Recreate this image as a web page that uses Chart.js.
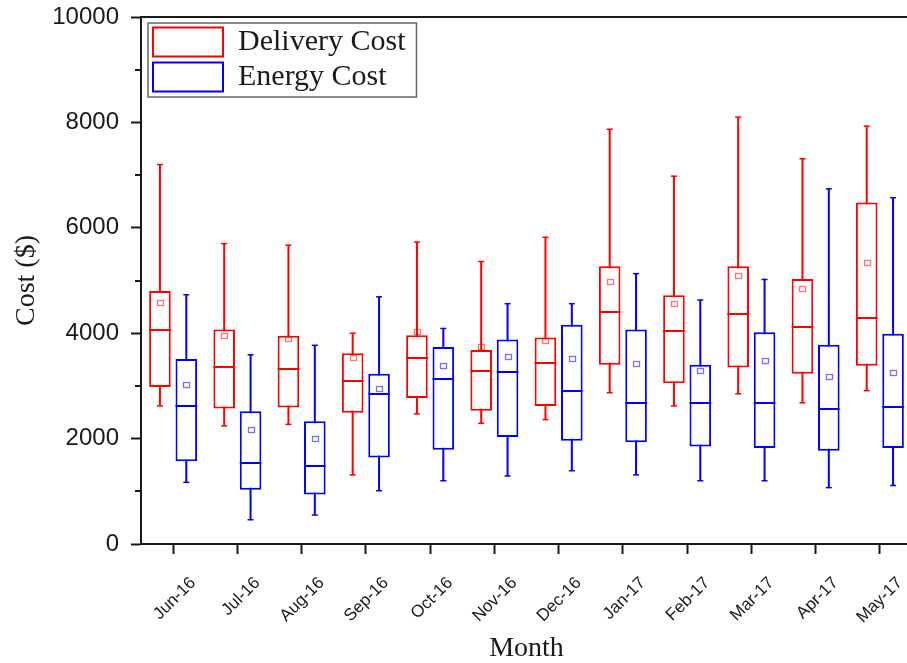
<!DOCTYPE html>
<html>
<head>
<meta charset="utf-8">
<script src="https://cdn.jsdelivr.net/npm/chart.js@4.4.1/dist/chart.umd.min.js"></script>
<style>
html, body { margin: 0; padding: 0; background: #fff; overflow: hidden; width: 907px; height: 663px; }
#wrap { position: relative; width: 920px; height: 663px; }
</style>
</head>
<body>
<div id="wrap"><canvas id="c"></canvas></div>
<script>
// ---- data ----
const months = ['Jun-16','Jul-16','Aug-16','Sep-16','Oct-16','Nov-16','Dec-16','Jan-17','Feb-17','Mar-17','Apr-17','May-17'];

const deliveryMin    = [2620, 2240, 2270, 1310, 2470, 2290, 2360, 2870, 2620, 2850, 2680, 2910];
const deliveryQ1     = [2980, 2570, 2590, 2490, 2770, 2530, 2620, 3400, 3050, 3350, 3230, 3380];
const deliveryMedian = [4060, 3350, 3330, 3100, 3520, 3280, 3440, 4400, 4040, 4370, 4110, 4280];
const deliveryQ3     = [4800, 4070, 3950, 3620, 3960, 3680, 3920, 5270, 4720, 5270, 5030, 6480];
const deliveryMax    = [7200, 5700, 5670, 4000, 5730, 5360, 5820, 7870, 6980, 8100, 7310, 7930];
const deliveryMean   = [4590, 3960, 3900, 3540, 4040, 3740, 3870, 4990, 4560, 5090, 4850, 5350];

const energyMin    = [1170,  460,  550, 1010, 1200, 1290, 1390, 1310, 1200, 1200, 1070, 1110];
const energyQ1     = [1570, 1030,  940, 1640, 1790, 2030, 1960, 1930, 1850, 1820, 1770, 1820];
const energyMedian = [2620, 1530, 1480, 2850, 3140, 3260, 2910, 2670, 2670, 2670, 2570, 2600];
const energyQ3     = [3510, 2520, 2330, 3230, 3740, 3880, 4160, 4070, 3400, 4020, 3780, 3990];
const energyMax    = [4730, 3590, 3770, 4690, 4090, 4560, 4560, 5130, 4630, 5020, 6740, 6570];
const energyMean   = [3030, 2180, 2000, 2950, 3390, 3550, 3520, 3430, 3290, 3480, 3170, 3260];

const yMajorTicks = [0, 2000, 4000, 6000, 8000, 10000];
const yMinorTicks = [1000, 3000, 5000, 7000, 9000];
const seriesNames = ['Delivery Cost', 'Energy Cost'];

// ---- styles ----
const RED = '#ff0000', BLUE = '#0000ff';
const RED_MEAN = 'rgba(255,0,0,0.55)', BLUE_MEAN = 'rgba(0,0,255,0.55)';
const AXIS = '#1a1a1a';
const SANS = '"Liberation Sans", Arial, sans-serif';
const SERIF = '"Liberation Serif", "Times New Roman", serif';
const CAT_PCT = 0.821, BAR_PCT = 0.818;

const seriesStats = [
  { boxIndex: 0, min: deliveryMin, max: deliveryMax, median: deliveryMedian, mean: deliveryMean, color: RED, meanColor: RED_MEAN },
  { boxIndex: 2, min: energyMin, max: energyMax, median: energyMedian, mean: energyMean, color: BLUE, meanColor: BLUE_MEAN }
];

const boxExtras = {
  id: 'boxExtras',
  afterLayout(chart) {
    const lg = chart.legend;
    if (!lg) return;
    const ca = chart.chartArea;
    const w = lg.width, h = lg.height;
    lg.left = ca.left + 7;
    lg.top = ca.top + 5;
    lg.right = lg.left + w;
    lg.bottom = lg.top + h;
  },
  afterDatasetsDraw(chart) {
    const ctx = chart.ctx;
    const y = chart.scales.y;
    ctx.save();
    seriesStats.forEach(s => {
      const meta = chart.getDatasetMeta(s.boxIndex);
      meta.data.forEach((el, i) => {
        const p = el.getProps(['x', 'width'], true);
        const x = p.x, w = p.width;
        // median line
        const ym = Math.round(y.getPixelForValue(s.median[i]));
        ctx.strokeStyle = s.color;
        ctx.lineWidth = 2;
        ctx.beginPath();
        ctx.moveTo(x - w / 2, ym);
        ctx.lineTo(x + w / 2, ym);
        ctx.stroke();
        // whisker caps
        ctx.lineWidth = 1.5;
        [s.min[i], s.max[i]].forEach(v => {
          const yy = y.getPixelForValue(v);
          ctx.beginPath();
          ctx.moveTo(x - 3, yy);
          ctx.lineTo(x + 3, yy);
          ctx.stroke();
        });
        // mean marker (hollow square)
        const yMean = y.getPixelForValue(s.mean[i]);
        ctx.strokeStyle = s.meanColor;
        ctx.lineWidth = 1.3;
        ctx.strokeRect(Math.round(x - 3) + 0.5, Math.round(yMean - 2.5) + 0.5, 6, 5);
      });
    });
    ctx.restore();
  },
  afterDraw(chart) {
    const ctx = chart.ctx;
    const ca = chart.chartArea;
    const y = chart.scales.y;
    ctx.save();
    ctx.strokeStyle = AXIS;
    ctx.lineWidth = 2;
    // top frame line
    ctx.beginPath();
    ctx.moveTo(ca.left - 1, ca.top);
    ctx.lineTo(chart.width, ca.top);
    ctx.stroke();
    // minor ticks on y axis
    yMinorTicks.forEach(v => {
      const yy = Math.round(y.getPixelForValue(v));
      ctx.beginPath();
      ctx.moveTo(ca.left - 6, yy);
      ctx.lineTo(ca.left, yy);
      ctx.stroke();
    });
    // legend frame
    const lg = chart.legend;
    if (lg && lg.legendHitBoxes && lg.legendHitBoxes.length) {
      let l = Infinity, t = Infinity, r = -Infinity, b = -Infinity;
      lg.legendHitBoxes.forEach(hb => {
        l = Math.min(l, hb.left); t = Math.min(t, hb.top);
        r = Math.max(r, hb.left + hb.width); b = Math.max(b, hb.top + hb.height);
      });
      ctx.strokeStyle = '#666';
      ctx.lineWidth = 1.5;
      ctx.strokeRect(l - 5, t - 4, (r - l) + 16, (b - t) + 9);
    }
    ctx.restore();
  }
};

new Chart(document.getElementById('c'), {
  type: 'bar',
  data: {
    labels: months,
    datasets: [
      { label: seriesNames[0] + ' box', stack: 'D', data: months.map((m, i) => [deliveryQ1[i], deliveryQ3[i]]),
        backgroundColor: '#ffffff', borderColor: RED, borderWidth: 2, borderSkipped: false,
        categoryPercentage: CAT_PCT, barPercentage: BAR_PCT },
      { label: seriesNames[0] + ' whisker', stack: 'D', data: months.map((m, i) => [deliveryMin[i], deliveryMax[i]]),
        backgroundColor: RED, borderWidth: 0, maxBarThickness: 2,
        categoryPercentage: CAT_PCT, barPercentage: BAR_PCT },
      { label: seriesNames[1] + ' box', stack: 'E', data: months.map((m, i) => [energyQ1[i], energyQ3[i]]),
        backgroundColor: '#ffffff', borderColor: BLUE, borderWidth: 2, borderSkipped: false,
        categoryPercentage: CAT_PCT, barPercentage: BAR_PCT },
      { label: seriesNames[1] + ' whisker', stack: 'E', data: months.map((m, i) => [energyMin[i], energyMax[i]]),
        backgroundColor: BLUE, borderWidth: 0, maxBarThickness: 2,
        categoryPercentage: CAT_PCT, barPercentage: BAR_PCT }
    ]
  },
  options: {
    responsive: true,
    maintainAspectRatio: false,
    animation: false,
    layout: { padding: { top: 17, right: 8, left: 0, bottom: 0 } },
    plugins: {
      tooltip: { enabled: false },
      legend: {
        display: true,
        position: 'chartArea',
        align: 'start',
        onClick: null,
        labels: {
          boxWidth: 70,
          boxHeight: 29,
          padding: 5,
          color: '#1a1a1a',
          font: { family: SERIF, size: 30 },
          generateLabels: () => [
            { text: seriesNames[0], fillStyle: '#ffffff', strokeStyle: RED, lineWidth: 2, hidden: false, datasetIndex: 0, fontColor: '#1a1a1a' },
            { text: seriesNames[1], fillStyle: '#ffffff', strokeStyle: BLUE, lineWidth: 2, hidden: false, datasetIndex: 2, fontColor: '#1a1a1a' }
          ]
        }
      }
    },
    scales: {
      x: {
        type: 'category',
        offset: true,
        grid: { display: true, drawOnChartArea: false, offset: false, tickLength: 10, tickWidth: 2, tickColor: AXIS },
        border: { display: true, color: AXIS, width: 2 },
        ticks: { autoSkip: false, minRotation: 45, maxRotation: 45, labelOffset: 20, padding: 19,
                 color: '#1a1a1a', font: { family: SANS, size: 17 } },
        title: { display: true, text: 'Month', color: '#1a1a1a',
                 font: { family: SERIF, size: 28, lineHeight: 1 }, padding: { top: 0, bottom: 0 } },
        afterFit(s) { s.height = 119; s.paddingLeft = 0; s.paddingRight = 0; }
      },
      y: {
        type: 'linear',
        min: 0, max: 10000,
        stacked: false,
        afterBuildTicks(s) { s.ticks = yMajorTicks.map(v => ({ value: v })); },
        ticks: { padding: 12, color: '#1a1a1a', font: { family: SANS, size: 24 }, callback: v => String(v) },
        grid: { display: true, drawOnChartArea: false, tickLength: 10, tickWidth: 2, tickColor: AXIS },
        border: { display: true, color: AXIS, width: 2 },
        title: { display: true, text: 'Cost ($)', color: '#1a1a1a',
                 font: { family: SERIF, size: 28, lineHeight: 1 }, padding: { top: 13, bottom: 0 } },
        afterFit(s) { s.width = 141; s.paddingTop = 0; s.paddingBottom = 0; }
      }
    }
  },
  plugins: [boxExtras]
});
</script>
</body>
</html>
